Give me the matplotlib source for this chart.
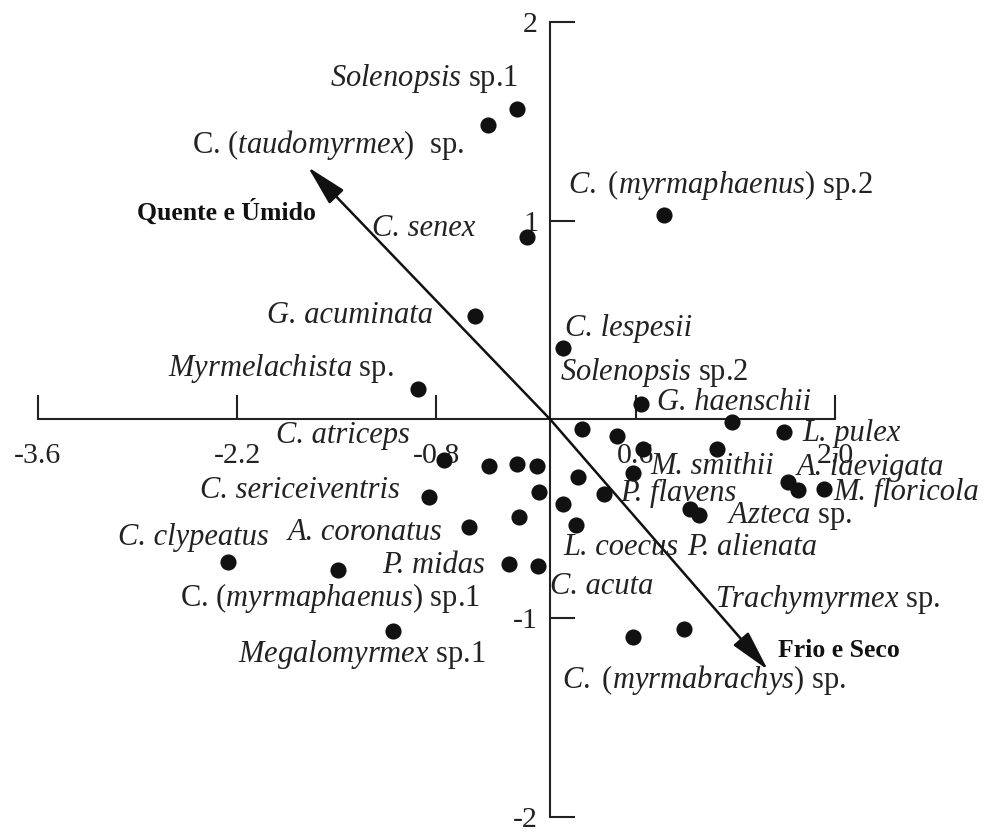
import matplotlib
matplotlib.use("Agg")
import matplotlib.pyplot as plt

# species scores (axis 1, axis 2)
x_scores = [-0.235, -0.438, 0.798, -0.164, -0.530, 0.089, -0.930, 0.637,
            1.276, 1.642, 0.222, 0.468, 0.651, 1.171, -0.748, -0.431,
            -0.235, -0.094, 0.580, 0.194, 1.669, 1.739, 1.922, -0.853,
            -0.080, 0.376, 0.089, 0.981, 1.044, -0.572, -0.221, 0.179,
            -2.266, -1.493, -0.291, -0.087, -1.107, 0.580, 0.938]
y_scores = [1.562, 1.482, 1.029, 0.918, 0.521, 0.360, 0.153, 0.078,
            -0.013, -0.063, -0.048, -0.083, -0.148, -0.148, -0.204, -0.234,
            -0.224, -0.234, -0.269, -0.289, -0.314, -0.355, -0.350, -0.390,
            -0.365, -0.375, -0.425, -0.450, -0.480, -0.540, -0.491, -0.531,
            -0.717, -0.757, -0.727, -0.737, -1.064, -1.094, -1.054]

# environmental vectors
vector_names = ["Quente e Úmido", "Frio e Seco"]
vector_x = [-1.703, 1.529]
vector_y = [1.270, -1.260]

x_ticks = [-3.6, -2.2, -0.8, 0.6, 2.0]
x_tick_labels = ["-3.6", "-2.2", "-0.8", "0.6", "2.0"]
y_ticks = [-2, -1, 1, 2]
y_tick_labels = ["-2", "-1", "1", "2"]

species_labels = [
    r"$\mathit{Solenopsis}$ sp.1",
    r"C. ($\mathit{taudomyrmex}$)  sp.",
    r"$\mathit{C.}$ $\mathit{(myrmaphaenus)}$ sp.2",
    "C. senex",
    "G. acuminata",
    "C. lespesii",
    r"$\mathit{Solenopsis}$ sp.2",
    r"$\mathit{Myrmelachista}$ sp.",
    "G. haenschii",
    "C. atriceps",
    "L. pulex",
    "M. smithii",
    "A. laevigata",
    "C. sericeiventris",
    "P. flavens",
    "M. floricola",
    "A. coronatus",
    r"$\mathit{Azteca}$ sp.",
    "C. clypeatus",
    "L. coecus",
    "P. alienata",
    "P. midas",
    "C. acuta",
    r"C. ($\mathit{myrmaphaenus}$) sp.1",
    r"$\mathit{Trachymyrmex}$ sp.",
    r"$\mathit{Megalomyrmex}$ sp.1",
    r"$\mathit{C.}$ $\mathit{(myrmabrachys)}$ sp.",
]

# where each name sits (left edge, vertical centre)
label_pos = [(-1.549, 1.718), (-2.519, 1.381), (0.124, 1.180), (-1.255, 0.963),
             (-1.992, 0.521), (0.103, 0.460), (0.067, 0.234), (-2.687, 0.259),
             (0.749, 0.083), (-1.928, -0.083), (1.768, -0.073), (0.706, -0.239),
             (1.733, -0.244), (-2.462, -0.355), (0.488, -0.370), (1.986, -0.365),
             (-1.844, -0.571), (1.241, -0.486), (-3.039, -0.596), (0.089, -0.646),
             (0.959, -0.646), (-1.183, -0.737), (-0.003, -0.843), (-2.603, -0.898),
             (1.157, -0.908), (-2.195, -1.184), (0.082, -1.310)]
vector_label_pos = [(-2.905, 1.044), (1.599, -1.165)]

plt.rcParams['font.family'] = ['Liberation Serif', 'DejaVu Serif']
plt.rcParams['mathtext.fontset'] = 'custom'
plt.rcParams['mathtext.rm'] = 'Liberation Serif'
plt.rcParams['mathtext.it'] = 'Liberation Serif:italic'
plt.rcParams['mathtext.bf'] = 'Liberation Serif:bold'

fig = plt.figure(figsize=(10.02, 8.34), dpi=100)
ax = fig.add_axes([0, 0, 1, 1])
ax.set_xlim(-3.867, 3.174)
ax.set_ylim(-2.086, 2.111)

for side in ("top", "right"):
    ax.spines[side].set_visible(False)
ax.spines["bottom"].set_position(("data", 0))
ax.spines["left"].set_position(("data", 0))
ax.spines["bottom"].set_bounds(-3.6, 2.0)
ax.spines["left"].set_bounds(-2, 2)
for side in ("bottom", "left"):
    ax.spines[side].set_linewidth(1.5)
    ax.spines[side].set_color("#222222")

ax.set_xticks(x_ticks)
ax.set_xticklabels(x_tick_labels)
ax.set_yticks(y_ticks)
ax.set_yticklabels(y_tick_labels)
ax.tick_params(axis="x", direction="in", length=17, width=1.5, pad=17,
               labelsize=21.5, colors="#222222")
ax.tick_params(axis="y", direction="in", length=18, width=1.5, pad=9,
               labelsize=21.5, colors="#222222")

for vx, vy in zip(vector_x, vector_y):
    ax.annotate("", xy=(vx, vy), xytext=(0, 0),
                arrowprops=dict(arrowstyle="-|>,head_length=0.9,head_width=0.22",
                                lw=1.8, color="#111111", mutation_scale=28,
                                shrinkA=0, shrinkB=0))

ax.scatter(x_scores, y_scores, s=135, color="#111111", zorder=3, linewidths=0)

for text, (lx, ly) in zip(species_labels, label_pos):
    style = "normal" if "$" in text else "italic"
    ax.text(lx, ly, text, fontsize=22, style=style, ha="left", va="center",
            color="#222222")

for text, (lx, ly) in zip(vector_names, vector_label_pos):
    ax.text(lx, ly, text, fontsize=18.5, fontweight="bold", ha="left", va="center",
            color="#111111")

fig.savefig("out.png", dpi=100)
